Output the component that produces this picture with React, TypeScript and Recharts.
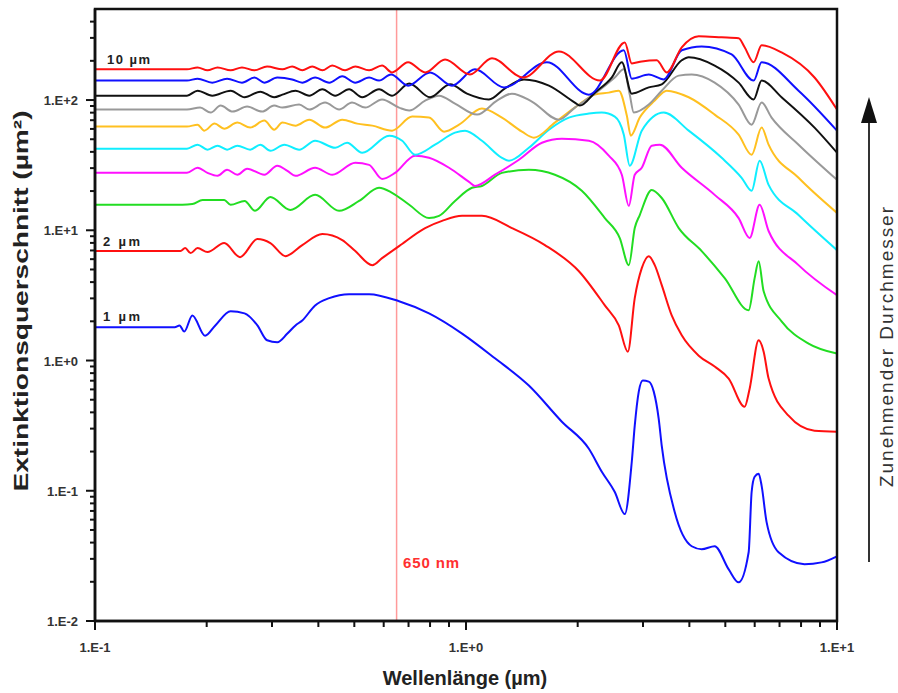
import React from 'react';
import { LineChart, Line, XAxis, YAxis, ReferenceLine } from 'recharts';

type Pt = [number, number];

// wavelength (µm), extinction cross section (µm²)
const size1um: Pt[] = [
  [0.1, 1.8], [0.164, 1.8], [0.169, 1.86], [0.174, 1.67], [0.183, 2.22], [0.198, 1.55], [0.211, 1.86],
  [0.232, 2.39], [0.253, 2.3], [0.274, 1.86], [0.291, 1.43], [0.31, 1.38], [0.33, 1.61], [0.347, 1.86],
  [0.362, 2.03], [0.392, 2.65], [0.428, 3.01], [0.484, 3.23], [0.548, 3.23], [0.66, 2.85], [0.795, 2.3],
  [0.976, 1.61], [1.197, 1.04], [1.477, 0.642], [1.813, 0.339], [2.144, 0.21], [2.323, 0.14], [2.518, 0.0978],
  [2.679, 0.0662], [2.798, 0.167], [2.85, 0.316], [2.922, 0.577], [2.995, 0.701], [3.109, 0.689], [3.207, 0.577],
  [3.307, 0.357], [3.37, 0.221], [3.652, 0.0686], [4.059, 0.0375], [4.318, 0.0356], [4.68, 0.0375],
  [5.106, 0.0249], [5.431, 0.0198], [5.779, 0.0337], [5.887, 0.0978], [5.998, 0.128], [6.149, 0.135],
  [6.264, 0.109], [6.46, 0.0574], [6.958, 0.0337], [8.175, 0.0273], [9.085, 0.0282], [10, 0.0314],
];
const size2um: Pt[] = [
  [0.1, 6.92], [0.17, 6.92], [0.175, 7.3], [0.181, 6.68], [0.189, 7.3], [0.201, 6.8], [0.223, 7.98], [0.246, 6.22],
  [0.274, 8.56], [0.297, 7.98], [0.326, 6.33], [0.362, 7.7], [0.41, 9.36], [0.464, 8.41], [0.503, 6.92], [0.559, 5.4],
  [0.594, 6.11], [0.66, 7.56], [0.776, 10.4], [0.862, 11.8], [0.976, 12.9], [1.104, 12.9], [1.33, 10.4], [1.632, 7.7],
  [2.015, 4.85], [2.367, 2.65], [2.581, 1.86], [2.73, 1.17], [2.85, 3.01], [2.977, 5.12], [3.109, 6.33], [3.227, 5.4],
  [3.37, 3.79], [3.585, 2.22], [3.815, 1.56], [4.239, 1.09], [4.68, 0.899], [5.106, 0.727], [5.637, 0.442],
  [5.815, 0.608], [6.149, 1.43], [6.343, 1.17], [6.541, 0.727], [7.402, 0.377], [8.698, 0.289], [10, 0.284],
];
const size3um: Pt[] = [
  [0.1, 15.7], [0.172, 15.7], [0.183, 15.9], [0.195, 17.1], [0.223, 17.1], [0.232, 15.7], [0.253, 16.8], [0.27, 14.1],
  [0.297, 18.0], [0.336, 14.3], [0.392, 18.7], [0.455, 14.1], [0.515, 16.8], [0.583, 21.2], [0.632, 19.4], [0.703, 15.7],
  [0.795, 12.4], [0.846, 12.9], [0.934, 16.8], [1.038, 21.2], [1.104, 21.9], [1.25, 27.6], [1.477, 29.1], [1.736, 26.7],
  [2.052, 20.1], [2.367, 12.4], [2.597, 8.72], [2.747, 5.4], [2.85, 10.4], [2.94, 13.1], [3.167, 20.4], [3.37, 17.7],
  [3.745, 10.4], [4.318, 6.92], [4.981, 4.29], [5.779, 2.43], [5.998, 4.29], [6.149, 5.79], [6.343, 3.4],
  [7.089, 2.0], [8.381, 1.35], [10, 1.13],
];
const size4um: Pt[] = [
  [0.1, 27.6], [0.177, 27.6], [0.189, 30.2], [0.201, 27.6], [0.214, 26.2], [0.227, 29.1], [0.242, 26.7], [0.257, 29.7],
  [0.286, 26.7], [0.31, 31.3], [0.33, 28.6], [0.347, 26.2], [0.392, 30.2], [0.436, 26.7], [0.503, 33.0], [0.548, 31.8],
  [0.594, 24.8], [0.644, 27.6], [0.729, 37.4], [0.795, 36.0], [0.9, 30.2], [1.019, 23.5], [1.057, 21.9], [1.197, 26.7],
  [1.389, 34.8], [1.602, 47.0], [1.813, 50.5], [2.144, 48.7], [2.426, 37.4], [2.63, 26.7], [2.747, 15.4], [2.85, 26.7],
  [2.977, 30.2], [3.167, 44.6], [3.329, 45.4], [3.815, 30.2], [4.68, 18.7], [5.431, 12.4], [5.815, 8.72], [6.187, 15.7],
  [6.541, 9.87], [7.877, 5.4], [10, 3.17],
];
const size5um: Pt[] = [
  [0.1, 42.3], [0.177, 42.3], [0.189, 45.4], [0.201, 41.6], [0.214, 44.6], [0.227, 41.6], [0.242, 44.6], [0.262, 41.6],
  [0.279, 45.4], [0.297, 40.8], [0.324, 45.4], [0.355, 41.6], [0.392, 48.7], [0.444, 43.0], [0.478, 47.0], [0.525, 39.4],
  [0.621, 53.3], [0.673, 48.7], [0.729, 38.0], [0.825, 45.4], [0.934, 56.2], [0.994, 58.2], [1.104, 48.7], [1.25, 36.0],
  [1.306, 34.2], [1.477, 43.0], [1.673, 59.2], [1.893, 73.3], [2.144, 78.7], [2.323, 80.1], [2.518, 74.6], [2.663, 54.2],
  [2.763, 31.3], [2.977, 58.2], [3.412, 80.1], [3.984, 58.2], [4.889, 36.0], [5.533, 25.3], [5.887, 20.1], [6.187, 34.2],
  [6.541, 22.3], [7.877, 13.1], [10, 7.04],
];
const size6um: Pt[] = [
  [0.1, 62.5], [0.177, 62.5], [0.189, 64.7], [0.197, 58.2], [0.21, 65.9], [0.223, 60.3], [0.242, 67.1], [0.262, 61.4],
  [0.286, 69.5], [0.304, 59.2], [0.32, 67.1], [0.347, 63.6], [0.378, 70.7], [0.417, 61.4], [0.464, 70.7], [0.509, 65.9],
  [0.559, 63.6], [0.632, 58.2], [0.716, 74.6], [0.795, 73.3], [0.873, 57.2], [0.958, 64.7], [1.104, 86.0], [1.25, 73.3],
  [1.415, 57.2], [1.524, 51.4], [1.736, 67.1], [1.965, 87.5], [2.225, 110], [2.426, 114], [2.581, 118], [2.713, 76.0],
  [2.781, 53.3], [2.94, 73.3], [3.227, 99], [3.475, 118], [3.984, 105], [4.68, 77.3], [5.431, 54.2], [5.887, 38.0],
  [6.264, 61.4], [6.541, 45.4], [7.877, 25.3], [10, 13.6],
];
const size7um: Pt[] = [
  [0.1, 84.5], [0.177, 84.5], [0.192, 87.5], [0.205, 80.1], [0.218, 90.7], [0.235, 81.5], [0.257, 89.1], [0.282, 81.5],
  [0.304, 90.7], [0.32, 87.5], [0.355, 92.3], [0.378, 84.5], [0.417, 95.6], [0.455, 84.5], [0.493, 95.6], [0.535, 87.5],
  [0.594, 101], [0.66, 87.5], [0.703, 83.0], [0.776, 99], [0.846, 108], [0.934, 94.0], [1.071, 77.3], [1.212, 99],
  [1.33, 112], [1.505, 97.4], [1.78, 70.7], [1.965, 87.5], [2.225, 112], [2.518, 149], [2.663, 172], [2.763, 110],
  [2.833, 80.1], [3.109, 92.3], [3.37, 118], [3.745, 154], [4.059, 157], [4.68, 136], [5.431, 92.3], [5.887, 64.7],
  [6.264, 95.6], [6.663, 73.3], [7.877, 45.4], [10, 24.4],
];
const size8um: Pt[] = [
  [0.1, 108], [0.177, 108], [0.189, 118], [0.207, 108], [0.232, 118], [0.253, 105], [0.279, 116], [0.304, 105],
  [0.32, 110], [0.347, 118], [0.378, 108], [0.41, 121], [0.444, 108], [0.484, 121], [0.525, 105], [0.583, 121],
  [0.632, 108], [0.703, 134], [0.8, 105], [0.906, 132], [1.006, 112], [1.153, 101], [1.274, 123], [1.433, 144],
  [1.673, 129], [1.965, 95.6], [2.027, 90.7], [2.225, 114], [2.472, 149], [2.63, 195], [2.798, 112], [3.109, 125],
  [3.37, 132], [3.815, 202], [3.984, 213], [4.68, 184], [5.431, 136], [5.961, 101], [6.264, 141], [7.089, 105],
  [8.698, 61.4], [10, 39.4],
];
const size9um: Pt[] = [
  [0.1, 141], [0.177, 141], [0.189, 146], [0.207, 136], [0.227, 146], [0.249, 136], [0.269, 149], [0.286, 136],
  [0.31, 149], [0.34, 144], [0.362, 136], [0.392, 149], [0.428, 136], [0.464, 152], [0.503, 136], [0.548, 149],
  [0.583, 141], [0.628, 157], [0.698, 129], [0.8, 163], [0.917, 129], [1.057, 172], [1.266, 125], [1.652, 195],
  [2.144, 110], [2.663, 241], [2.798, 146], [3.109, 157], [3.412, 144], [3.815, 241], [4.318, 258], [5.2, 224],
  [5.961, 141], [6.264, 195], [7.877, 118], [10, 58.2],
];
const size10um: Pt[] = [
  [0.1, 172], [0.177, 172], [0.189, 178], [0.201, 169], [0.214, 178], [0.232, 169], [0.249, 178], [0.269, 169],
  [0.291, 181], [0.32, 172], [0.34, 181], [0.362, 169], [0.385, 181], [0.41, 169], [0.436, 184], [0.472, 169],
  [0.503, 181], [0.548, 169], [0.594, 184], [0.632, 163], [0.698, 195], [0.776, 163], [0.878, 205], [1.025, 157],
  [1.175, 209], [1.424, 149], [1.78, 236], [2.295, 141], [2.679, 277], [2.798, 191], [2.977, 198], [3.267, 202],
  [3.475, 163], [3.815, 254], [4.239, 309], [4.889, 303], [5.431, 298], [5.637, 254], [5.961, 195], [6.264, 263],
  [7.089, 232], [8.698, 149], [10, 84.5],
];

const SERIES = [
  { name: '1 µm', color: '#1010ff', pts: size1um },
  { name: '2 µm', color: '#ff1010', pts: size2um },
  { name: '3 µm', color: '#22dd22', pts: size3um },
  { name: '4 µm', color: '#ff10ff', pts: size4um },
  { name: '5 µm', color: '#10eeff', pts: size5um },
  { name: '6 µm', color: '#ffc020', pts: size6um },
  { name: '7 µm', color: '#999999', pts: size7um },
  { name: '8 µm', color: '#111111', pts: size8um },
  { name: '9 µm', color: '#1010ff', pts: size9um },
  { name: '10 µm', color: '#ff1010', pts: size10um },
];

const xTicks = [0.1, 0.2, 0.3, 0.4, 0.5, 0.6, 0.7, 0.8, 0.9, 1, 2, 3, 4, 5, 6, 7, 8, 9, 10];
const yTicks = [
  0.01, 0.02, 0.03, 0.04, 0.05, 0.06, 0.07, 0.08, 0.09,
  0.1, 0.2, 0.3, 0.4, 0.5, 0.6, 0.7, 0.8, 0.9,
  1, 2, 3, 4, 5, 6, 7, 8, 9,
  10, 20, 30, 40, 50, 60, 70, 80, 90,
  100, 200, 300, 400,
];
const xDomain: [number, number] = [0.1, 10];
const yDomain: [number, number] = [0.01, 500];
const markerWavelength = 0.65;

const FONT = 'Liberation Sans, Arial, Helvetica, sans-serif';
const PLOT = { left: 95, top: 9, right: 837, bottom: 621 };

const isDecade = (v: number) => Math.abs(Math.log10(v) - Math.round(Math.log10(v))) < 1e-6;
const fmt = (v: number) => {
  const e = Math.round(Math.log10(v));
  return `1.E${e >= 0 ? '+' : '-'}${Math.abs(e)}`;
};
const xPos = (v: number) =>
  PLOT.left +
  ((Math.log10(v) - Math.log10(xDomain[0])) / (Math.log10(xDomain[1]) - Math.log10(xDomain[0]))) * (PLOT.right - PLOT.left);
const yPos = (v: number) =>
  PLOT.bottom -
  ((Math.log10(v) - Math.log10(yDomain[0])) / (Math.log10(yDomain[1]) - Math.log10(yDomain[0]))) * (PLOT.bottom - PLOT.top);

const renderXTick = (props: any) => {
  const { x, y, payload } = props;
  const v = Number(payload.value);
  if (!isDecade(v)) return <g />;
  return (
    <text x={Number(x)} y={Number(y) + 24} textAnchor="middle" fontFamily={FONT} fontSize={13} fontWeight="bold" fill="#333">
      {fmt(v)}
    </text>
  );
};

const renderYTick = (props: any) => {
  const { x, y, payload } = props;
  const v = Number(payload.value);
  if (!isDecade(v)) return <g />;
  return (
    <text x={Number(x) - 11} y={Number(y) + 5} textAnchor="end" fontFamily={FONT} fontSize={13} fontWeight="bold" fill="#333">
      {fmt(v)}
    </text>
  );
};

export default function App() {
  return (
    <div style={{ position: 'absolute', left: 0, top: 0, width: 898, height: 693, background: '#fff' }}>
      <LineChart width={898} height={693} margin={{ top: 9, right: 61, bottom: 42, left: 35 }}>
        <XAxis
          dataKey="x"
          type="number"
          scale="log"
          domain={xDomain}
          allowDataOverflow
          ticks={xTicks}
          interval={0}
          tickSize={7}
          tickMargin={0}
          tick={renderXTick}
          height={30}
          axisLine={{ stroke: '#111', strokeWidth: 2.5 }}
          tickLine={false}
        />
        <YAxis
          type="number"
          scale="log"
          domain={yDomain}
          allowDataOverflow
          ticks={yTicks}
          interval={0}
          tickSize={6}
          tickMargin={0}
          tick={renderYTick}
          width={60}
          axisLine={{ stroke: '#111', strokeWidth: 2.5 }}
          tickLine={false}
        />
        <ReferenceLine x={markerWavelength} stroke="#ff9a9a" strokeWidth={1.5} />
        {SERIES.map((s) => (
          <Line
            key={s.name}
            data={s.pts.map(([x, y]) => ({ x, y }))}
            dataKey="y"
            type="monotone"
            stroke={s.color}
            strokeWidth={2}
            dot={false}
            activeDot={false}
            isAnimationActive={false}
          />
        ))}
      </LineChart>
      <svg width={898} height={693} style={{ position: 'absolute', left: 0, top: 0, pointerEvents: 'none' }}>
        <rect x={PLOT.left} y={PLOT.top} width={PLOT.right - PLOT.left} height={PLOT.bottom - PLOT.top} fill="none" stroke="#111" strokeWidth={2.5} />
        {xTicks.map((v) => (
          <line
            key={`xt${v}`}
            x1={xPos(v)}
            x2={xPos(v)}
            y1={PLOT.bottom}
            y2={PLOT.bottom + (isDecade(v) ? 9 : 6)}
            stroke="#111"
            strokeWidth={2}
          />
        ))}
        {yTicks.map((v) => (
          <line
            key={`yt${v}`}
            x1={PLOT.left - (isDecade(v) ? 9 : 5)}
            x2={PLOT.left}
            y1={yPos(v)}
            y2={yPos(v)}
            stroke="#111"
            strokeWidth={2}
          />
        ))}
        <text x={107} y={64} fontFamily={FONT} fontSize={13} fontWeight="bold" fill="#222" textLength={43}>10 µm</text>
        <text x={103} y={246} fontFamily={FONT} fontSize={13} fontWeight="bold" fill="#222" textLength={37}>2 µm</text>
        <text x={103} y={321} fontFamily={FONT} fontSize={13} fontWeight="bold" fill="#222" textLength={37}>1 µm</text>
        <text x={403} y={568} fontFamily={FONT} fontSize={15} fontWeight="bold" fill="#ff3030" textLength={56}>650 nm</text>
        <text x={465} y={685} textAnchor="middle" fontFamily={FONT} fontSize={20} fontWeight="bold" fill="#222">
          Wellenlänge (µm)
        </text>
        <text
          transform="translate(28,301) rotate(-90)"
          textAnchor="middle"
          fontFamily={FONT}
          fontSize={20}
          fontWeight="bold"
          fill="#222"
          textLength={381}
          lengthAdjust="spacingAndGlyphs"
        >
          Extinktionsquerschnitt (µm²)
        </text>
        <line x1={869} y1={562} x2={869} y2={118} stroke="#333" strokeWidth={2} />
        <polygon points="869,97 861,123 877,123" fill="#111" />
        <text
          transform="translate(893,347) rotate(-90)"
          textAnchor="middle"
          fontFamily={FONT}
          fontSize={19}
          fill="#333"
          textLength={280}
        >
          Zunehmender Durchmesser
        </text>
      </svg>
    </div>
  );
}
